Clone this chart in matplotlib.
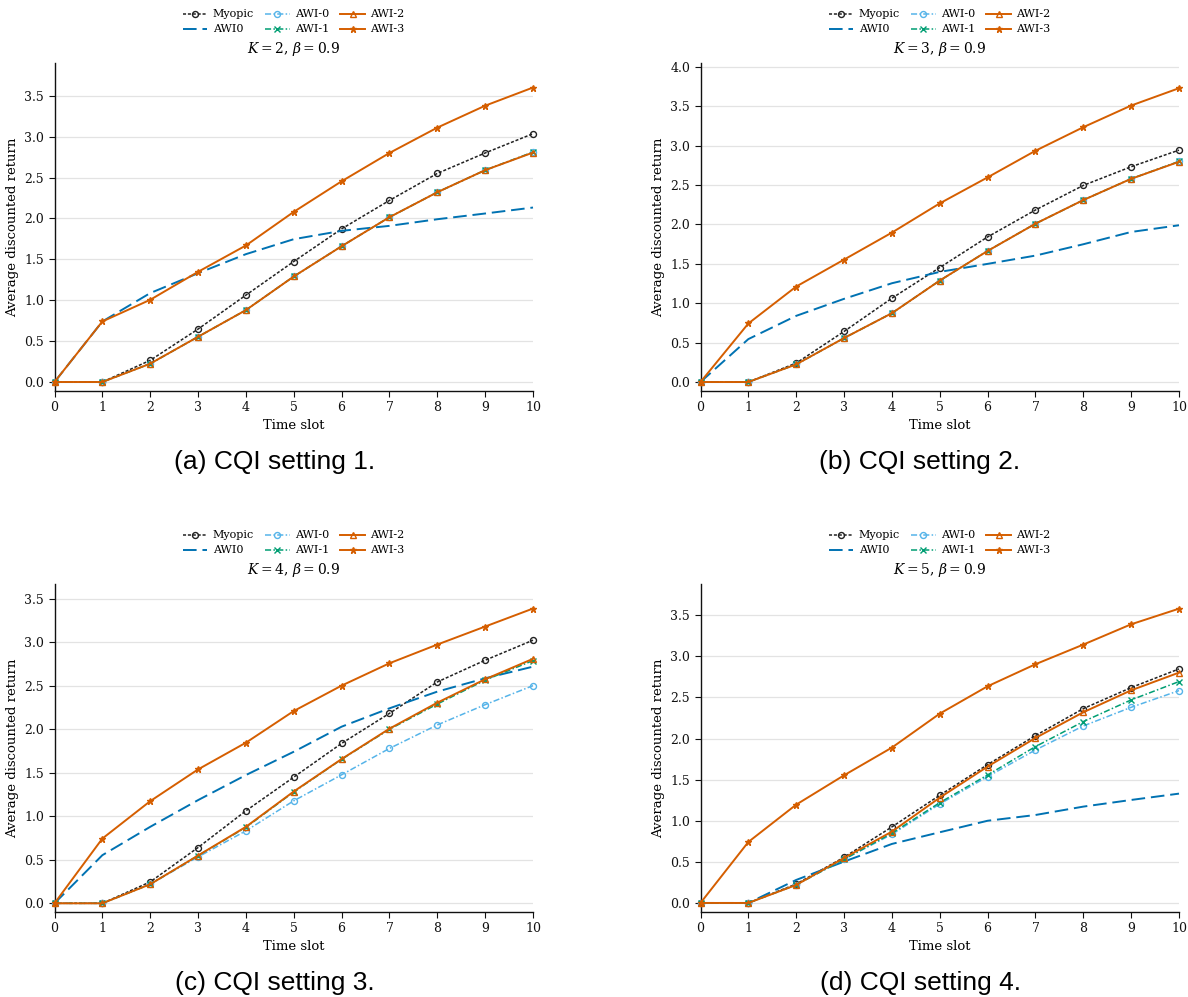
import matplotlib
matplotlib.use("Agg")
import matplotlib.pyplot as plt

plt.rcParams['font.family'] = ['DejaVu Serif']
plt.rcParams['mathtext.fontset'] = 'dejavuserif'

time_slots = list(range(11))
series_names = ["Myopic", "AWI0", "AWI-0", "AWI-1", "AWI-2", "AWI-3"]

# Panel (a): K=2
a_myopic = [0, 0, 0.265, 0.647, 1.062, 1.473, 1.872, 2.22, 2.55, 2.80, 3.036]
a_awi0_base = [0, 0.74, 1.087, 1.33, 1.563, 1.746, 1.848, 1.909, 1.99, 2.06, 2.133]
a_awi_0 = [0, 0, 0.224, 0.553, 0.879, 1.29, 1.66, 2.015, 2.32, 2.59, 2.81]
a_awi_1 = [0, 0, 0.224, 0.553, 0.879, 1.29, 1.66, 2.015, 2.32, 2.59, 2.81]
a_awi_2 = [0, 0, 0.224, 0.553, 0.879, 1.29, 1.66, 2.015, 2.32, 2.59, 2.805]
a_awi_3 = [0, 0.74, 1.005, 1.347, 1.669, 2.08, 2.454, 2.80, 3.11, 3.378, 3.60]

# Panel (b): K=3
b_myopic = [0, 0, 0.24, 0.642, 1.064, 1.453, 1.842, 2.184, 2.496, 2.733, 2.944]
b_awi0_base = [0, 0.545, 0.84, 1.056, 1.254, 1.398, 1.50, 1.605, 1.749, 1.905, 1.99]
b_awi_0 = [0, 0, 0.224, 0.558, 0.874, 1.288, 1.664, 2.01, 2.31, 2.58, 2.80]
b_awi_1 = [0, 0, 0.224, 0.558, 0.874, 1.288, 1.664, 2.01, 2.31, 2.58, 2.80]
b_awi_2 = [0, 0, 0.224, 0.558, 0.874, 1.288, 1.664, 2.01, 2.31, 2.58, 2.796]
b_awi_3 = [0, 0.743, 1.212, 1.554, 1.897, 2.268, 2.598, 2.936, 3.235, 3.51, 3.73]

# Panel (c): K=4
c_myopic = [0, 0, 0.246, 0.641, 1.063, 1.45, 1.838, 2.183, 2.544, 2.794, 3.024]
c_awi0_base = [0, 0.553, 0.879, 1.186, 1.474, 1.742, 2.03, 2.241, 2.433, 2.586, 2.72]
c_awi_0 = [0, 0, 0.22, 0.533, 0.833, 1.178, 1.477, 1.78, 2.05, 2.283, 2.502]
c_awi_1 = [0, 0, 0.219, 0.549, 0.872, 1.28, 1.655, 2.0, 2.29, 2.565, 2.79]
c_awi_2 = [0, 0, 0.219, 0.549, 0.879, 1.285, 1.658, 2.007, 2.306, 2.575, 2.81]
c_awi_3 = [0, 0.744, 1.174, 1.539, 1.846, 2.21, 2.502, 2.759, 2.974, 3.181, 3.388]

# Panel (d): K=5
d_myopic = [0, 0, 0.23, 0.556, 0.925, 1.31, 1.683, 2.036, 2.364, 2.62, 2.847]
d_awi0_base = [0, 0, 0.28, 0.503, 0.718, 0.86, 1.0, 1.07, 1.172, 1.253, 1.33]
d_awi_0 = [0, 0, 0.22, 0.531, 0.835, 1.204, 1.537, 1.861, 2.153, 2.38, 2.583]
d_awi_1 = [0, 0, 0.22, 0.531, 0.848, 1.22, 1.557, 1.902, 2.206, 2.47, 2.693]
d_awi_2 = [0, 0, 0.219, 0.547, 0.868, 1.281, 1.659, 2.007, 2.32, 2.587, 2.802]
d_awi_3 = [0, 0.742, 1.196, 1.553, 1.89, 2.303, 2.636, 2.904, 3.143, 3.39, 3.58]

panels = [
    dict(K=2, data=[a_myopic, a_awi0_base, a_awi_0, a_awi_1, a_awi_2, a_awi_3],
         ylim=(-0.11, 3.9), yticks=[0, 0.5, 1.0, 1.5, 2.0, 2.5, 3.0, 3.5],
         caption="(a) CQI setting 1."),
    dict(K=3, data=[b_myopic, b_awi0_base, b_awi_0, b_awi_1, b_awi_2, b_awi_3],
         ylim=(-0.114, 4.05), yticks=[0, 0.5, 1.0, 1.5, 2.0, 2.5, 3.0, 3.5, 4.0],
         caption="(b) CQI setting 2."),
    dict(K=4, data=[c_myopic, c_awi0_base, c_awi_0, c_awi_1, c_awi_2, c_awi_3],
         ylim=(-0.10, 3.67), yticks=[0, 0.5, 1.0, 1.5, 2.0, 2.5, 3.0, 3.5],
         caption="(c) CQI setting 3."),
    dict(K=5, data=[d_myopic, d_awi0_base, d_awi_0, d_awi_1, d_awi_2, d_awi_3],
         ylim=(-0.11, 3.88), yticks=[0, 0.5, 1.0, 1.5, 2.0, 2.5, 3.0, 3.5],
         caption="(d) CQI setting 4."),
]

styles = [
    dict(color='#222222', ls=(0, (2, 1.2)), marker='o', mfc='none', ms=4.3, lw=1.1),
    dict(color='#0072B2', ls=(0, (7, 3)), marker=None, lw=1.4),
    dict(color='#56B4E9', ls=(0, (4, 1.5, 1, 1.5)), marker='o', mfc='none', ms=4.3, lw=1.1),
    dict(color='#009E73', ls=(0, (4, 1.5, 1, 1.5)), marker='x', ms=4.3, lw=1.1),
    dict(color='#D55E00', ls='-', marker='^', mfc='none', ms=4.8, lw=1.4),
    dict(color='#D55E00', ls='-', marker='*', ms=5, lw=1.4),
]

W, H = 1188, 997
fig = plt.figure(figsize=(W / 100, H / 100), dpi=100)

ax_px = [(54.5, 63, 533, 391), (700.5, 63, 1179, 391),
         (54.5, 584, 533, 912), (700.5, 584, 1179, 912)]
cap_px = [(275, 462), (920, 462), (275, 983), (920, 983)]

for p, (l, t, r, b), (cx, cy) in zip(panels, ax_px, cap_px):
    ax = fig.add_axes([l / W, 1 - b / H, (r - l) / W, (b - t) / H])
    handles = []
    for name, vals, st in zip(series_names, p['data'], styles):
        h, = ax.plot(time_slots, vals, label=name, color=st['color'], linestyle=st['ls'],
                     linewidth=st['lw'], marker=st.get('marker'),
                     markerfacecolor=st.get('mfc', st['color']),
                     markeredgecolor=st['color'], markersize=st.get('ms', 4),
                     markeredgewidth=1.0, clip_on=False, zorder=3)
        handles.append(h)
    ax.set_xlim(0, 10)
    ax.set_ylim(*p['ylim'])
    ax.set_xticks(time_slots)
    ax.set_yticks(p['yticks'])
    ax.set_yticklabels([f"{v:.1f}" for v in p['yticks']])
    ax.grid(axis='y', color='#e3e3e3', linewidth=0.9, zorder=0)
    ax.set_axisbelow(True)
    for s in ['top', 'right']:
        ax.spines[s].set_visible(False)
    for s in ['left', 'bottom']:
        ax.spines[s].set_linewidth(1.0)
        ax.spines[s].set_color('#111111')
    ax.tick_params(axis='both', labelsize=9, length=4, width=0.8, colors='#111111')
    ax.set_xlabel("Time slot", fontsize=9.5, labelpad=3)
    ax.set_ylabel("Average discounted return", fontsize=9.5, labelpad=4)
    ax.set_title(rf"$K = {p['K']}$, $\beta = 0.9$", fontsize=10, pad=7)
    ax.legend(handles=handles, ncol=3, loc='lower center',
              bbox_to_anchor=(0.5, 1.087), frameon=False, fontsize=8,
              handlelength=2.2, columnspacing=1.0, handletextpad=0.5,
              labelspacing=0.45, borderaxespad=0, borderpad=0)
    fig.text(cx / W, 1 - cy / H, p['caption'], ha='center', va='center',
             fontsize=19, family='Liberation Sans')

fig.savefig("out.png", dpi=100)
